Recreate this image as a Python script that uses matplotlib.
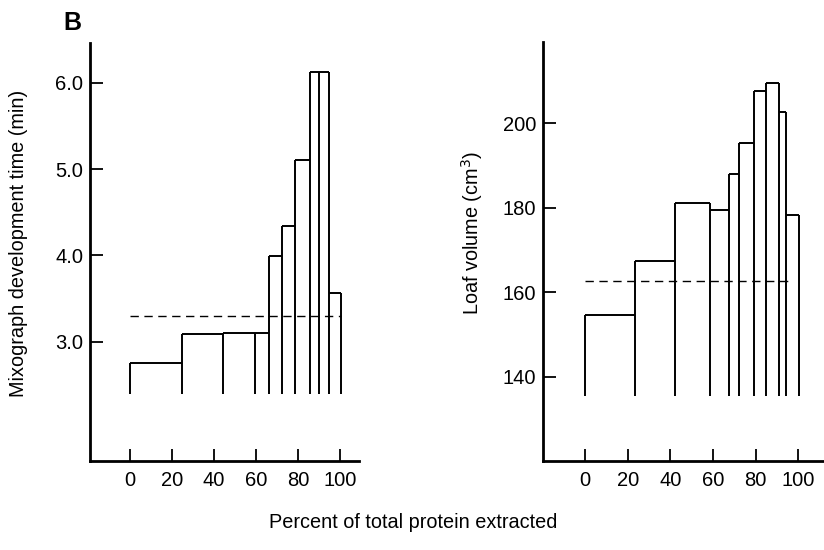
import matplotlib
matplotlib.use("Agg")
import matplotlib.pyplot as plt
import numpy as np

plt.rcParams['font.family'] = ['Liberation Sans', 'DejaVu Sans']

# Left panel: mixograph development time (min)
mix_edges = [0, 24.8, 44.2, 59.5, 66.3, 72.4, 78.4, 85.7, 90.2, 94.5, 100.2]
mix_values = [2.76, 3.09, 3.10, 3.10, 3.99, 4.34, 5.10, 6.13, 6.13, 3.56]
mix_mean = 3.30
mix_base = 2.40

# Right panel: loaf volume (cm3)
loaf_edges = [0, 23.5, 42.3, 58.7, 67.6, 72.3, 79.3, 85.0, 91.0, 94.4, 100.5]
loaf_values = [154.5, 167.3, 181.0, 179.5, 188.0, 195.3, 207.6, 209.5, 202.6, 178.3]
loaf_mean = 162.6
loaf_base = 135.3

x_ticks = [0, 20, 40, 60, 80, 100]
mix_yticks = [3.0, 4.0, 5.0, 6.0]
mix_yticklabels = ["3.0", "4.0", "5.0", "6.0"]
loaf_yticks = [140, 160, 180, 200]
loaf_yticklabels = ["140", "160", "180", "200"]

TICK_FS = 14.5
LABEL_FS = 14.3


def draw_bars(ax, edges, values, base, lw=1.4):
    edges = np.asarray(edges)
    values = np.asarray(values)
    ax.hlines(values, edges[:-1], edges[1:], colors='black', linewidth=lw)
    tops = []
    for i in range(len(edges)):
        left = values[i - 1] if i > 0 else -np.inf
        right = values[i] if i < len(values) else -np.inf
        tops.append(max(left, right))
    ax.vlines(edges, base, tops, colors='black', linewidth=lw)


def style_axes(ax):
    for s in ['top', 'right']:
        ax.spines[s].set_visible(False)
    ax.spines['left'].set_linewidth(2.0)
    ax.spines['bottom'].set_linewidth(2.0)
    ax.tick_params(direction='in', length=9, width=1.3, labelsize=TICK_FS)
    ax.tick_params(axis='y', pad=5)
    ax.tick_params(axis='x', pad=7)


fig = plt.figure(figsize=(8.24, 5.5), dpi=100)

ax1 = fig.add_axes([90 / 824, 1 - 461 / 550, (359 - 90) / 824, (461 - 43) / 550])
draw_bars(ax1, mix_edges, mix_values, mix_base)
ax1.hlines(mix_mean, 0, 100.5, colors='black', linewidth=1.0, linestyles=(0, (6, 4)))
ax1.set_xlim(-19, 109)
ax1.set_ylim(1.62, 6.46)
ax1.set_xticks(x_ticks)
ax1.set_yticks(mix_yticks)
ax1.set_yticklabels(mix_yticklabels)
ax1.set_ylabel("Mixograph development time (min)", fontsize=LABEL_FS)
ax1.yaxis.set_label_coords(-0.232, 0.52)
style_axes(ax1)

ax2 = fig.add_axes([543 / 824, 1 - 461 / 550, (824 - 543) / 824, (461 - 42) / 550])
draw_bars(ax2, loaf_edges, loaf_values, loaf_base)
ax2.hlines(loaf_mean, 0, 97.5, colors='black', linewidth=1.0, linestyles=(0, (6, 4)))
ax2.set_xlim(-19.7, 112)
ax2.set_ylim(120, 219.2)
ax2.set_xticks(x_ticks)
ax2.set_yticks(loaf_yticks)
ax2.set_yticklabels(loaf_yticklabels)
ax2.set_ylabel("Loaf volume (cm$^3$)", fontsize=LABEL_FS)
ax2.yaxis.set_label_coords(-0.205, 0.545)
style_axes(ax2)

fig.text(413 / 824, 1 - 523 / 550, "Percent of total protein extracted",
         ha='center', va='center', fontsize=LABEL_FS)
fig.text(72 / 824, 1 - 23 / 550, "B", ha='center', va='center',
         fontsize=18, fontweight='bold')

fig.savefig("out.png", dpi=100)
